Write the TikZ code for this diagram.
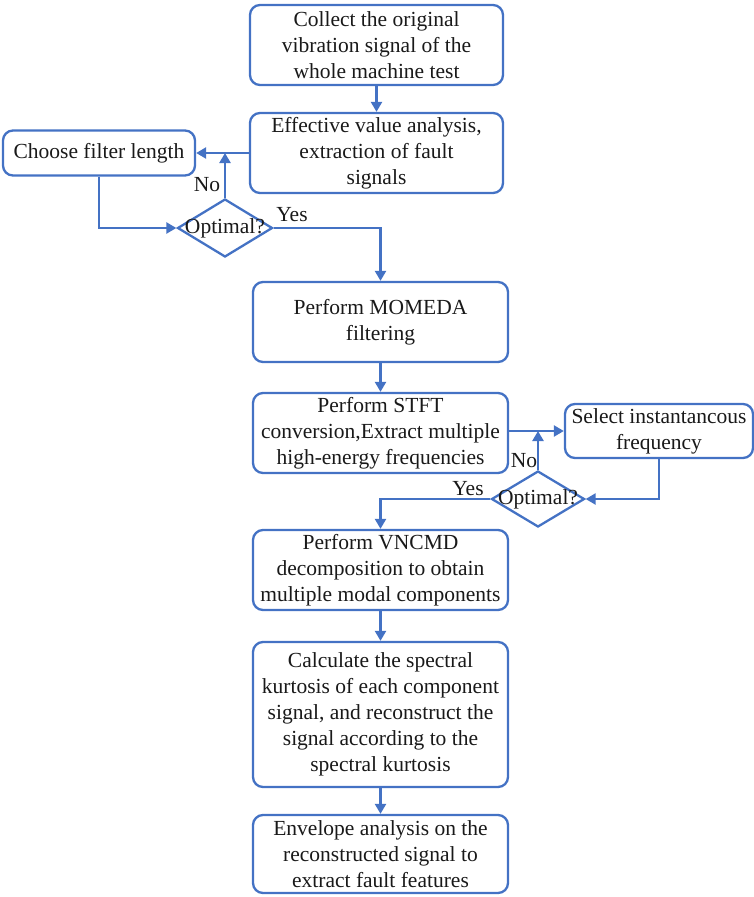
\documentclass[tikz,border=0pt]{standalone}
\usepackage{fontspec}
\setmainfont{Liberation Serif}
\newfontfamily\boxfont{Liberation Serif}
\usetikzlibrary{shapes.geometric,arrows.meta}
\definecolor{flowblue}{HTML}{4472C4}
\begin{document}
\begin{tikzpicture}[x=1pt,y=-1pt,
  box/.style={draw=flowblue,line width=2.3pt,rounded corners=10pt,align=center,
    inner sep=0pt,font=\boxfont\fontsize{21.5}{26}\selectfont,text=black!90},
  decision/.style={draw=flowblue,line width=2.3pt,diamond,inner sep=0pt},
  tag/.style={font=\boxfont\fontsize{21.5}{24}\selectfont,text=black!90,inner sep=0pt},
  flow/.style={draw=flowblue,line width=2.3pt,-{Triangle[length=10pt,width=11pt]}}]
\useasboundingbox (0,0) rectangle (754,897);

% main column
\node[box,minimum width=253pt,minimum height=80pt] (collect) at (376.5,45)
  {Collect the original\\vibration signal of the\\whole machine test};
\node[box,minimum width=253pt,minimum height=80pt] (effective) at (376.5,153)
  {Effective value analysis,\\extraction of fault\\signals};
\node[box,minimum width=255pt,minimum height=80pt] (momeda) at (380.5,322)
  {Perform MOMEDA\\filtering};
\node[box,minimum width=255pt,minimum height=80pt] (stft) at (380.5,433)
  {Perform STFT\\conversion,Extract multiple\\high-energy frequencies};
\node[box,minimum width=255pt,minimum height=80pt] (vncmd) at (380.5,570)
  {Perform VNCMD\\decomposition to obtain\\multiple modal components};
\node[box,minimum width=255pt,minimum height=145pt] (kurt) at (380.5,714.5)
  {Calculate the spectral\\kurtosis of each component\\signal, and reconstruct the\\signal according to the\\spectral kurtosis};
\node[box,minimum width=255pt,minimum height=78pt] (envelope) at (380.5,854)
  {Envelope analysis on the\\reconstructed signal to\\extract fault features};

% side loops
\node[box,minimum width=192pt,minimum height=45pt] (filter) at (99,153)
  {Choose filter length};
\node[decision,minimum width=95pt,minimum height=58pt,
  label={[tag]center:Optimal?}] (opt1) at (225,228) {};
\node[box,minimum width=188pt,minimum height=54pt] (select) at (659,431)
  {Select instantancous\\frequency};
\node[decision,minimum width=93pt,minimum height=56pt,
  label={[tag]center:Optimal?}] (opt2) at (538,499) {};

% connectors
\draw[flow] (collect.south) -- (effective.north);
\draw[flow] (effective.west) -- (filter.east);
\draw[flow] (filter.south) |- (opt1.west);
\draw[flow] (opt1.north) -- (opt1.north |- filter.east);
\draw[flow] (opt1.east) -| (momeda.north);
\draw[flow] (momeda.south) -- (stft.north);
\draw[flow] (stft.east |- select.west) -- (select.west);
\draw[flow] (select.south) |- (opt2.east);
\draw[flow] (opt2.north) -- (opt2.north |- select.west);
\draw[flow] (opt2.west) -| (vncmd.north);
\draw[flow] (vncmd.south) -- (kurt.north);
\draw[flow] (kurt.south) -- (envelope.north);

% branch labels
\node[tag] (no1) at (207,185) {No};
\node[tag] (yes1) at (292,215) {Yes};
\node[tag] (no2) at (524,461) {No};
\node[tag] (yes2) at (468,489) {Yes};
\end{tikzpicture}
\end{document}
